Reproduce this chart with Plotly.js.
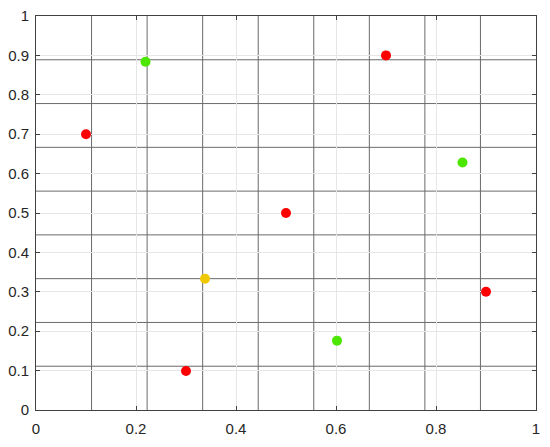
<!DOCTYPE html>
<html>
<head>
<meta charset="utf-8">
<script src="https://cdn.plot.ly/plotly-3.0.1.min.js"></script>
<style>html,body{margin:0;padding:0;background:#fff;}#chart{width:550px;height:447px;}</style>
</head>
<body>
<div id="chart"></div>
<script>
// Data points
const xValues = [0.1, 0.219, 0.338, 0.3, 0.5, 0.602, 0.7, 0.853, 0.9];
const yValues = [0.7, 0.884, 0.333, 0.099, 0.5, 0.176, 0.9, 0.628, 0.3];
const pointColors = ['#ff0000', '#4ce600', '#f0c800', '#ff0000', '#ff0000', '#4ce600', '#ff0000', '#4ce600', '#ff0000'];
// Partition lines (ninths)
const dividers = [1/9, 2/9, 3/9, 4/9, 5/9, 6/9, 7/9, 8/9];
const xTicks = [0, 0.2, 0.4, 0.6, 0.8, 1];
const yTicks = [0, 0.1, 0.2, 0.3, 0.4, 0.5, 0.6, 0.7, 0.8, 0.9, 1];

const shapes = [];
dividers.forEach(v => {
  shapes.push({type:'line', xref:'x', yref:'paper', x0:v, x1:v, y0:0, y1:1, line:{color:'#6a6a6a', width:1}, layer:'below'});
  shapes.push({type:'line', xref:'paper', yref:'y', x0:0, x1:1, y0:v, y1:v, line:{color:'#6a6a6a', width:1}, layer:'below'});
});

const trace = {
  x: xValues, y: yValues, type:'scatter', mode:'markers',
  marker:{color:pointColors, size:10, line:{width:0}},
  hoverinfo:'x+y'
};

const axisCommon = {
  range:[0,1], showline:true, linecolor:'#404040', linewidth:1, mirror:'ticks',
  ticks:'inside', ticklen:4, tickcolor:'#404040', tickwidth:1,
  showgrid:true, gridcolor:'#e6e6e6', gridwidth:1, zeroline:false,
  tickfont:{family:'Liberation Sans', size:15, color:'#262626'},
  tickmode:'array', fixedrange:true
};

const layout = {
  width:550, height:447,
  margin:{l:36, r:14, t:16, b:37},
  paper_bgcolor:'#ffffff', plot_bgcolor:'#ffffff',
  showlegend:false,
  xaxis:Object.assign({}, axisCommon, {tickvals:xTicks, ticktext:xTicks.map(String), ticklabelstandoff:5}),
  yaxis:Object.assign({}, axisCommon, {tickvals:yTicks, ticktext:yTicks.map(String), ticklabelstandoff:3}),
  shapes: shapes
};

Plotly.newPlot('chart', [trace], layout, {displayModeBar:false, staticPlot:true});
</script>
</body>
</html>
